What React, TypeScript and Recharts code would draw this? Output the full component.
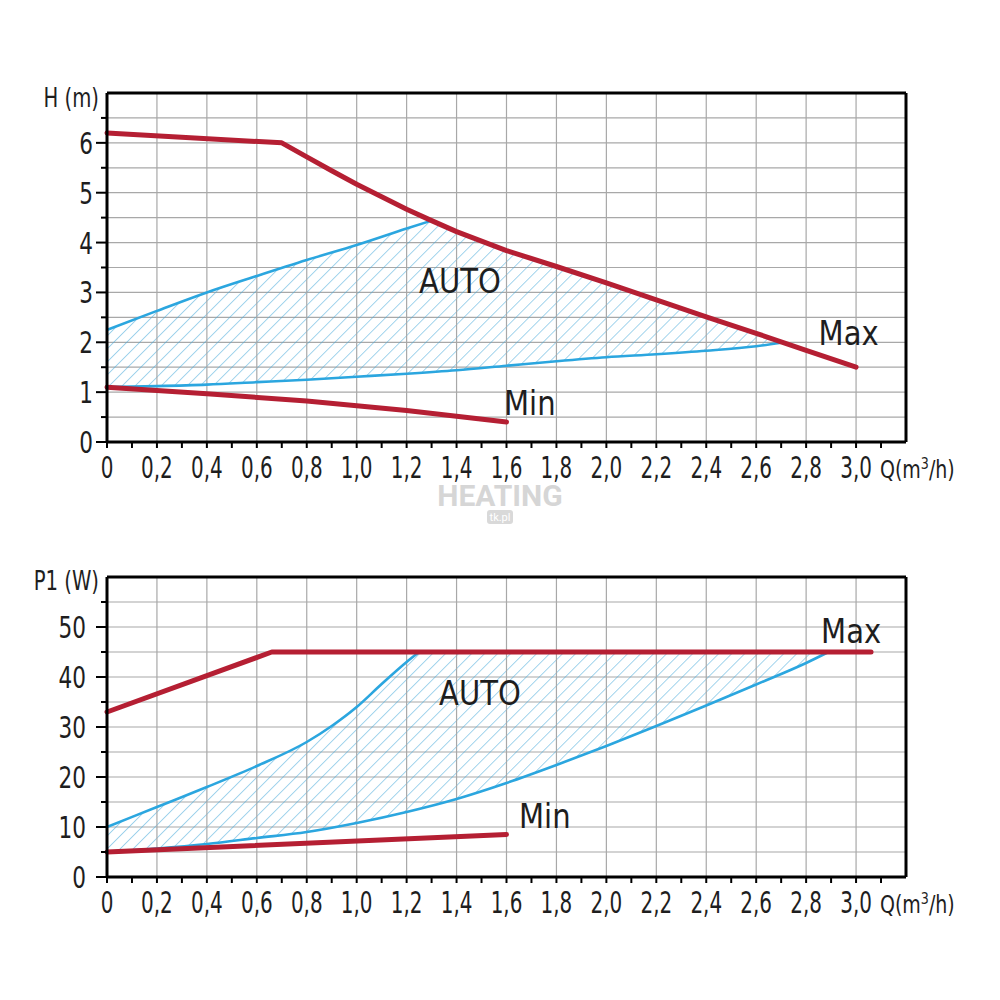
import {
  Area,
  CartesianGrid,
  ComposedChart,
  Customized,
  Line,
  ReferenceDot,
  ReferenceLine,
  XAxis,
  YAxis,
} from "recharts";

// Pump curves: head H(m) and input power P1(W) against flow Q(m3/h).
// Values.

const FONT = "'DejaVu Sans Condensed', 'Liberation Sans Narrow', Roboto, sans-serif";
const RED = "#b51f33";
const BLUE = "#2ba6df";
const HATCH = "#48a9da";
const GRID = "#a8a8a8";
const INK = "#1e1e1e";

// flow axis, shared by both charts
const xMax = 3.2;
const xMajorTicks = [0, 0.2, 0.4, 0.6, 0.8, 1.0, 1.2, 1.4, 1.6, 1.8, 2.0, 2.2, 2.4, 2.6, 2.8, 3.0];
const xTickLabels = ["0", "0,2", "0,4", "0,6", "0,8", "1,0", "1,2", "1,4", "1,6", "1,8", "2,0", "2,2", "2,4", "2,6", "2,8", "3,0"];
const xMinorTicks = [0.1, 0.3, 0.5, 0.7, 0.9, 1.1, 1.3, 1.5, 1.7, 1.9, 2.1, 2.3, 2.5, 2.7, 2.9, 3.1];
const xGridLines = [0.2, 0.4, 0.6, 0.8, 1.0, 1.2, 1.4, 1.6, 1.8, 2.0, 2.2, 2.4, 2.6, 2.8, 3.0];

// head chart
const headMax = 7;
const headMajorTicks = [0, 1, 2, 3, 4, 5, 6];
const headMinorTicks = [0.5, 1.5, 2.5, 3.5, 4.5, 5.5, 6.5];
const headMaxCurve = [
  { q: 0, v: 6.2 }, { q: 0.7, v: 6.0 }, { q: 0.8, v: 5.72 }, { q: 0.9, v: 5.44 },
  { q: 1.0, v: 5.17 }, { q: 1.1, v: 4.92 }, { q: 1.2, v: 4.67 }, { q: 1.3, v: 4.44 },
  { q: 1.4, v: 4.22 }, { q: 1.6, v: 3.84 }, { q: 1.8, v: 3.52 }, { q: 2.0, v: 3.19 },
  { q: 2.2, v: 2.85 }, { q: 2.4, v: 2.51 }, { q: 2.6, v: 2.18 }, { q: 2.8, v: 1.84 },
  { q: 3.0, v: 1.5 },
];
const headMinCurve = [
  { q: 0, v: 1.1 }, { q: 0.4, v: 0.97 }, { q: 0.8, v: 0.82 }, { q: 1.2, v: 0.63 }, { q: 1.6, v: 0.4 },
];
const headAutoUpper = [
  { q: 0, v: 2.25 }, { q: 0.2, v: 2.63 }, { q: 0.4, v: 3.0 }, { q: 0.6, v: 3.33 },
  { q: 0.8, v: 3.65 }, { q: 1.0, v: 3.95 }, { q: 1.2, v: 4.28 }, { q: 1.3, v: 4.44 },
];
const headAutoLower = [
  { q: 0, v: 1.1 }, { q: 0.2, v: 1.12 }, { q: 0.4, v: 1.15 }, { q: 0.6, v: 1.2 },
  { q: 0.8, v: 1.25 }, { q: 1.0, v: 1.31 }, { q: 1.2, v: 1.37 }, { q: 1.4, v: 1.44 },
  { q: 1.6, v: 1.53 }, { q: 1.8, v: 1.62 }, { q: 2.0, v: 1.7 }, { q: 2.2, v: 1.76 },
  { q: 2.4, v: 1.83 }, { q: 2.6, v: 1.92 }, { q: 2.7, v: 1.99 },
];
const headAutoBand = [
  { q: 0, band: [1.1, 2.25] }, { q: 0.2, band: [1.12, 2.63] }, { q: 0.4, band: [1.15, 3.0] },
  { q: 0.6, band: [1.2, 3.33] }, { q: 0.8, band: [1.25, 3.65] }, { q: 1.0, band: [1.31, 3.95] },
  { q: 1.2, band: [1.37, 4.28] }, { q: 1.3, band: [1.4, 4.44] }, { q: 1.4, band: [1.44, 4.22] },
  { q: 1.6, band: [1.53, 3.84] }, { q: 1.8, band: [1.62, 3.52] }, { q: 2.0, band: [1.7, 3.19] },
  { q: 2.2, band: [1.76, 2.85] }, { q: 2.4, band: [1.83, 2.51] }, { q: 2.6, band: [1.92, 2.18] },
  { q: 2.7, band: [1.99, 2.01] },
];
const headNotes = [
  { text: "Max", q: 2.85, v: 1.94 },
  { text: "AUTO", q: 1.25, v: 2.99 },
  { text: "Min", q: 1.59, v: 0.54 },
];

// power chart
const powerMax = 60;
const powerMajorTicks = [0, 10, 20, 30, 40, 50];
const powerMinorTicks = [5, 15, 25, 35, 45, 55];
const powerMaxCurve = [{ q: 0, v: 33 }, { q: 0.66, v: 45 }, { q: 3.06, v: 45 }];
const powerMinCurve = [{ q: 0, v: 5 }, { q: 1.6, v: 8.5 }];
const powerAutoUpper = [
  { q: 0, v: 10 }, { q: 0.2, v: 14 }, { q: 0.4, v: 18 }, { q: 0.6, v: 22.2 },
  { q: 0.8, v: 27 }, { q: 0.9, v: 30.2 }, { q: 1.0, v: 34 }, { q: 1.1, v: 38.6 },
  { q: 1.2, v: 43 }, { q: 1.25, v: 45 },
];
const powerAutoLower = [
  { q: 0, v: 5 }, { q: 0.2, v: 5.7 }, { q: 0.4, v: 6.6 }, { q: 0.6, v: 7.8 },
  { q: 0.8, v: 9 }, { q: 1.0, v: 10.8 }, { q: 1.2, v: 13 }, { q: 1.4, v: 15.6 },
  { q: 1.6, v: 18.8 }, { q: 1.8, v: 22.4 }, { q: 2.0, v: 26.2 }, { q: 2.2, v: 30.2 },
  { q: 2.4, v: 34.3 }, { q: 2.6, v: 38.5 }, { q: 2.8, v: 42.8 }, { q: 2.89, v: 45 },
];
const powerAutoBand = [
  { q: 0, band: [5, 10] }, { q: 0.2, band: [5.7, 14] }, { q: 0.4, band: [6.6, 18] },
  { q: 0.6, band: [7.8, 22.2] }, { q: 0.8, band: [9, 27] }, { q: 0.9, band: [9.9, 30.2] },
  { q: 1.0, band: [10.8, 34] }, { q: 1.1, band: [11.8, 38.6] }, { q: 1.2, band: [13, 43] },
  { q: 1.25, band: [13.6, 45] }, { q: 1.4, band: [15.6, 45] }, { q: 1.6, band: [18.8, 45] },
  { q: 1.8, band: [22.4, 45] }, { q: 2.0, band: [26.2, 45] }, { q: 2.2, band: [30.2, 45] },
  { q: 2.4, band: [34.3, 45] }, { q: 2.6, band: [38.5, 45] }, { q: 2.8, band: [42.8, 45] },
  { q: 2.89, band: [45, 45] },
];
const powerNotes = [
  { text: "Max", q: 2.86, v: 46.8 },
  { text: "AUTO", q: 1.33, v: 34.4 },
  { text: "Min", q: 1.65, v: 9.8 },
];

const xAllTicks = [...xMajorTicks, ...xMinorTicks].sort((a, b) => a - b);

// the datasheet uses a narrow DIN-like face; squeeze the fallback font horizontally
function Narrow({ x, y, anchor = "start", size, sx = 0.78, children }: any) {
  return (
    <text
      transform={`translate(${x} ${y}) scale(${sx} 1)`}
      textAnchor={anchor}
      fontSize={size}
      fill={INK}
      fontFamily={FONT}
    >
      {children}
    </text>
  );
}

function XTick(props: any) {
  const { x, y, payload } = props;
  const idx = xMajorTicks.indexOf(payload.value);
  return (
    <g>
      <line x1={x} x2={x} y1={y} y2={y + 6} stroke="#000" strokeWidth={2} />
      {idx >= 0 && (
        <Narrow x={x} y={y + 36} anchor="middle" size={30} sx={0.74}>
          {xTickLabels[idx]}
        </Narrow>
      )}
    </g>
  );
}

function makeYTick(majors: number[], gap: number) {
  return function YTick(props: any) {
    const { x, y, payload } = props;
    const major = majors.includes(payload.value);
    return (
      <g>
        <line x1={x - (major ? 11 : 6)} x2={x} y1={y} y2={y} stroke="#000" strokeWidth={2} />
        {major && (
          <Narrow x={x - gap} y={y + 11} anchor="end" size={30} sx={0.8}>
            {payload.value}
          </Narrow>
        )}
      </g>
    );
  };
}

function Titles({ yTitle, yTitleY, qY }: any) {
  return (
    <g>
      <Narrow x={99} y={yTitleY} anchor="end" size={26} sx={0.84}>
        {yTitle}
      </Narrow>
      <Narrow x={880} y={qY} size={24} sx={0.88}>
        Q(m<tspan dy={-9} fontSize={16}>3</tspan>
        <tspan dy={9}>/h)</tspan>
      </Narrow>
    </g>
  );
}

interface PumpChartProps {
  hatchId: string;
  yMax: number;
  yMajor: number[];
  yMinor: number[];
  yGap: number;
  yTitle: string;
  marginTop: number;
  marginBottom: number;
  titleY: number;
  qY: number;
  maxCurve: { q: number; v: number }[];
  minCurve: { q: number; v: number }[];
  autoUpper: { q: number; v: number }[];
  autoLower: { q: number; v: number }[];
  autoBand: { q: number; band: number[] }[];
  notes: { text: string; q: number; v: number }[];
}

function PumpChart(p: PumpChartProps) {
  const yTicks = [...p.yMajor, ...p.yMinor].sort((a, b) => a - b);
  return (
    <ComposedChart
      width={1000}
      height={500}
      data={p.autoBand}
      margin={{ top: p.marginTop, right: 94, left: 0, bottom: p.marginBottom }}
    >
      <defs>
        <pattern id={p.hatchId} width={9.2} height={9.2} patternUnits="userSpaceOnUse" patternTransform="rotate(45)">
          <line x1={0} y1={0} x2={0} y2={9.2} stroke={HATCH} strokeWidth={1} />
        </pattern>
      </defs>
      <CartesianGrid vertical={false} stroke={GRID} strokeWidth={1.2} />
      {xGridLines.map((g) => (
        <ReferenceLine key={g} x={g} stroke={GRID} strokeWidth={1.2} />
      ))}
      <XAxis
        dataKey="q"
        type="number"
        domain={[0, xMax]}
        ticks={xAllTicks}
        interval={0}
        tick={<XTick />}
        tickLine={false}
        tickSize={0}
        tickMargin={0}
        height={40}
        axisLine={{ stroke: "#000", strokeWidth: 3 }}
      />
      <YAxis
        type="number"
        domain={[0, p.yMax]}
        ticks={yTicks}
        interval={0}
        tick={makeYTick(p.yMajor, p.yGap)}
        tickLine={false}
        tickSize={0}
        tickMargin={0}
        width={107}
        axisLine={{ stroke: "#000", strokeWidth: 3 }}
      />
      <Area
        dataKey="band"
        type="linear"
        stroke="none"
        fill={`url(#${p.hatchId})`}
        fillOpacity={1}
        dot={false}
        activeDot={false}
        isAnimationActive={false}
      />
      <Line data={p.autoLower} dataKey="v" type="monotone" stroke={BLUE} strokeWidth={2.6} dot={false} isAnimationActive={false} />
      <Line data={p.autoUpper} dataKey="v" type="monotone" stroke={BLUE} strokeWidth={2.6} dot={false} isAnimationActive={false} />
      <Line data={p.minCurve} dataKey="v" type="linear" stroke={RED} strokeWidth={5} strokeLinecap="round" dot={false} isAnimationActive={false} />
      <Line data={p.maxCurve} dataKey="v" type="linear" stroke={RED} strokeWidth={5} strokeLinecap="round" strokeLinejoin="round" dot={false} isAnimationActive={false} />
      <ReferenceLine y={p.yMax} stroke="#000" strokeWidth={3} />
      <ReferenceLine x={xMax} stroke="#000" strokeWidth={3} />
      {p.notes.map((n) => (
        <ReferenceDot
          key={n.text}
          x={n.q}
          y={n.v}
          r={0}
          shape={(s: any) => (
            <Narrow x={s.cx} y={s.cy} size={34} sx={0.95}>
              {n.text}
            </Narrow>
          )}
        />
      ))}
      <Customized component={<Titles yTitle={p.yTitle} yTitleY={p.titleY} qY={p.qY} />} />
    </ComposedChart>
  );
}

export default function App() {
  return (
    <div style={{ position: "absolute", left: 0, top: 0, width: 1000, height: 1000, background: "#fff" }}>
      <div style={{ position: "absolute", left: 0, top: 0 }}>
        <PumpChart
          hatchId="hatchHead"
          yMax={headMax}
          yMajor={headMajorTicks}
          yMinor={headMinorTicks}
          yGap={14}
          yTitle="H (m)"
          marginTop={93}
          marginBottom={18}
          titleY={107}
          qY={478}
          maxCurve={headMaxCurve}
          minCurve={headMinCurve}
          autoUpper={headAutoUpper}
          autoLower={headAutoLower}
          autoBand={headAutoBand}
          notes={headNotes}
        />
      </div>
      <div style={{ position: "absolute", left: 0, top: 500 }}>
        <PumpChart
          hatchId="hatchPower"
          yMax={powerMax}
          yMajor={powerMajorTicks}
          yMinor={powerMinorTicks}
          yGap={21}
          yTitle="P1 (W)"
          marginTop={77}
          marginBottom={83}
          titleY={90}
          qY={413}
          maxCurve={powerMaxCurve}
          minCurve={powerMinCurve}
          autoUpper={powerAutoUpper}
          autoLower={powerAutoLower}
          autoBand={powerAutoBand}
          notes={powerNotes}
        />
      </div>
      <svg width={1000} height={1000} style={{ position: "absolute", left: 0, top: 0, pointerEvents: "none" }}>
        <text x={500} y={506} textAnchor="middle" fontSize={30} fontWeight={700} fill="#d6d6d6" fontFamily="Roboto, sans-serif">
          HEATING
        </text>
        <rect x={487} y={510} width={26} height={14} rx={3} fill="#d9d9d9" />
        <text x={500} y={521} textAnchor="middle" fontSize={11} fill="#fff" fontFamily="Roboto, sans-serif">
          tk.pl
        </text>
      </svg>
    </div>
  );
}
